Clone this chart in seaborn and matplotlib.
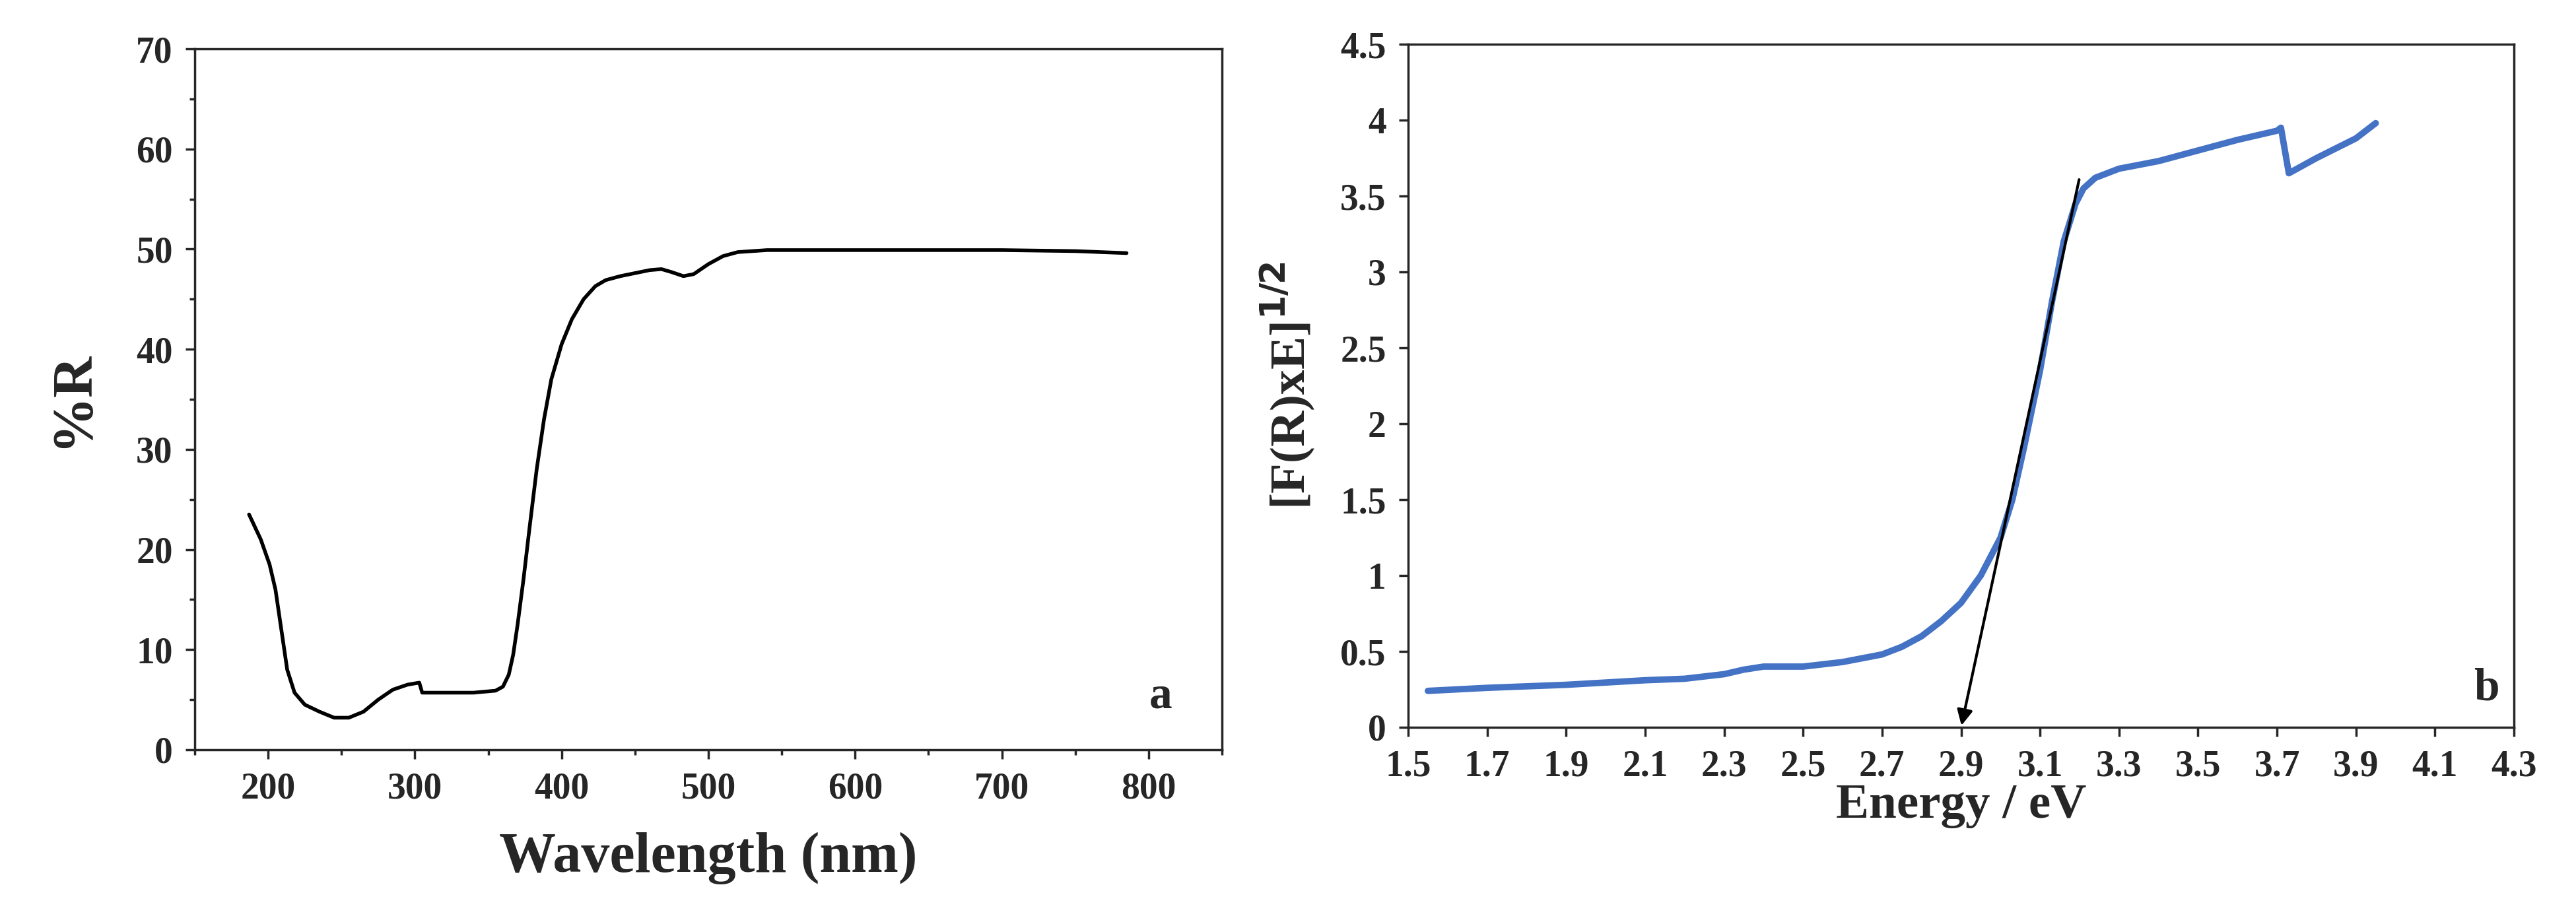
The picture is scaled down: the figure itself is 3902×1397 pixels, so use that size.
import matplotlib
matplotlib.use("Agg")
import matplotlib.pyplot as plt
import seaborn as sns
import numpy as np
import pandas as pd
from matplotlib.ticker import MultipleLocator

wl = [187,195,201,205,209,213,218,225,235,245,255,265,275,285,295,303,305,320,340,355,360,364,367,370,374,378,383,388,393,400,407,415,423,430,440,450,460,468,475,483,490,500,510,520,540,600,700,750,785]
refl = [23.5,21,18.5,16,12,8,5.7,4.5,3.8,3.2,3.2,3.8,5,6,6.5,6.7,5.7,5.7,5.7,5.9,6.3,7.5,9.5,12.5,17,22,28,33,37,40.5,43,45,46.3,46.9,47.3,47.6,47.9,48,47.7,47.3,47.5,48.5,49.3,49.7,49.9,49.9,49.9,49.8,49.6]

energy = [1.55,1.7,1.9,2.1,2.2,2.3,2.35,2.4,2.5,2.6,2.7,2.75,2.8,2.85,2.9,2.95,3.0,3.03,3.06,3.1,3.13,3.16,3.19,3.21,3.24,3.3,3.4,3.5,3.6,3.7,3.71,3.73,3.8,3.9,3.95]
fr = [0.24,0.26,0.28,0.31,0.32,0.35,0.38,0.40,0.40,0.43,0.48,0.53,0.60,0.70,0.82,1.0,1.25,1.5,1.85,2.35,2.8,3.2,3.45,3.55,3.62,3.68,3.73,3.8,3.87,3.93,3.95,3.65,3.75,3.88,3.98]
tangent_x = [3.2, 2.9]
tangent_y = [3.62, 0.0]

sns.set_style("ticks")
plt.rcParams['font.family'] = ['Liberation Serif', 'DejaVu Serif']
plt.rcParams['font.weight'] = 'bold'

fig = plt.figure(figsize=(39.02, 13.97), dpi=100)
ax1 = fig.add_axes([295/3902, 1-1136/1397, (1851-295)/3902, (1136-74)/1397])
ax2 = fig.add_axes([2133/3902, 1-1102/1397, (3808-2133)/3902, (1102-67)/1397])

sns.lineplot(x=wl, y=refl, ax=ax1, color='black', lw=4, sort=False)
ax1.set_xlim(150, 850); ax1.set_ylim(0, 70)
ax1.xaxis.set_minor_locator(MultipleLocator(50))
ax1.yaxis.set_major_locator(MultipleLocator(10)); ax1.yaxis.set_minor_locator(MultipleLocator(5))
ax1.set_xticks([200,300,400,500,600,700,800])
ax1.tick_params(which='both', direction='out', width=2.5, labelsize=40, pad=14)
ax1.tick_params(which='major', length=10); ax1.tick_params(which='minor', length=6)
for s in ax1.spines.values(): s.set_linewidth(2.5)
ax1.set_xlabel('Wavelength (nm)', fontsize=62, fontweight='bold', labelpad=28)
ax1.set_ylabel('%R', fontsize=62, fontweight='bold', labelpad=40)
ax1.text(0.94, 0.06, 'a', transform=ax1.transAxes, fontsize=50, fontweight='bold', ha='center')

sns.lineplot(x=energy, y=fr, ax=ax2, color='#4472C4', lw=7, sort=False)
ax2.annotate('', xy=(tangent_x[1], tangent_y[1]), xytext=(tangent_x[0], tangent_y[0]),
             arrowprops=dict(arrowstyle='-|>', color='black', lw=3, mutation_scale=35))
ax2.set_xlim(1.5, 4.3); ax2.set_ylim(0, 4.5)
ax2.set_xticks(np.round(np.arange(1.5, 4.31, 0.2), 1))
ax2.set_xticklabels([f'{v:.1f}' for v in np.arange(1.5, 4.31, 0.2)])
ax2.set_yticks([0,0.5,1,1.5,2,2.5,3,3.5,4,4.5])
ax2.set_yticklabels(['0','0.5','1','1.5','2','2.5','3','3.5','4','4.5'])
ax2.tick_params(direction='out', length=10, width=2.5, labelsize=40, pad=14)
for s in ax2.spines.values(): s.set_linewidth(2.5)
ax2.set_xlabel('Energy / eV', fontsize=54, fontweight='bold', labelpad=0)
ax2.set_ylabel(r'[F(R)xE]$^{\mathbf{1/2}}$', fontsize=54, fontweight='bold', labelpad=25)
ax2.text(0.975, 0.04, 'b', transform=ax2.transAxes, fontsize=50, fontweight='bold', ha='center')

fig.savefig('out.png', dpi=100)
